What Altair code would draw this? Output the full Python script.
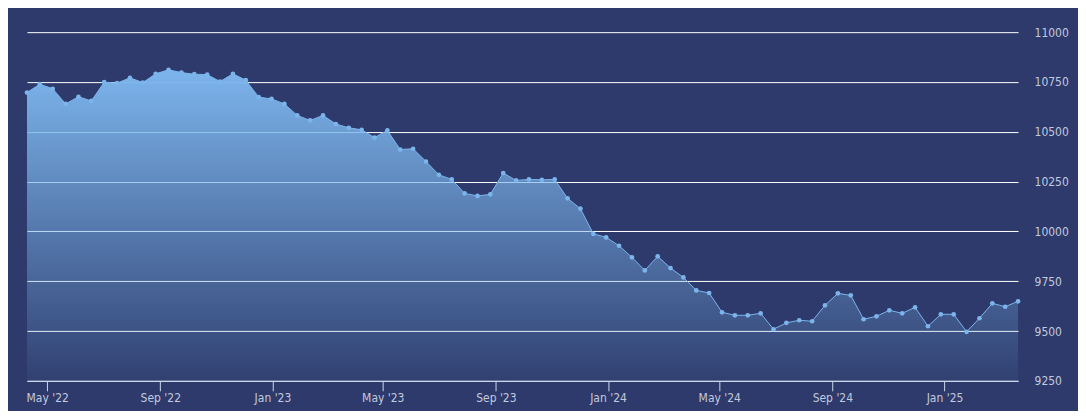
import altair as alt
import pandas as pd

start_date = "2022-04-09"
step_days = 14
values = [
    10697, 10739, 10716, 10640, 10676, 10655, 10749, 10744, 10771, 10747,
    10791, 10811, 10797, 10789, 10787, 10752, 10791, 10759, 10674, 10665,
    10640, 10582, 10557, 10582, 10539, 10520, 10510, 10471, 10507, 10411,
    10415, 10351, 10284, 10261, 10191, 10178, 10186, 10293, 10256, 10261,
    10259, 10261, 10166, 10114, 9988, 9970, 9928, 9870, 9804, 9875,
    9816, 9769, 9704, 9691, 9594, 9579, 9579, 9589, 9509, 9541,
    9554, 9549, 9629, 9689, 9679, 9559, 9574, 9604, 9589, 9619,
    9524, 9584, 9584, 9496, 9564, 9639, 9622, 9649,
]
y_ticks = [9250, 9500, 9750, 10000, 10250, 10500, 10750, 11000]
x_tick_months = [(2022, 5), (2022, 9), (2023, 1), (2023, 5), (2023, 9),
                 (2024, 1), (2024, 5), (2024, 9), (2025, 1)]

dates = pd.date_range(start_date, periods=len(values), freq=f"{step_days}D")
df = pd.DataFrame({"date": dates.strftime("%Y-%m-%d"), "value": values})

x_enc = alt.X(
    "date:T",
    scale=alt.Scale(type="utc", nice=False),
    axis=alt.Axis(
        title=None,
        values=[alt.DateTime(year=y, month=m, date=1, utc=True) for y, m in x_tick_months],
        format="%b '%y",
        grid=False,
        domainColor="#ccd6eb",
        tickColor="#ccd6eb",
        tickSize=10,
        labelColor="#c3c9de",
        labelFont="DejaVu Sans Condensed",
        labelFontSize=12,
        labelPadding=2,
        labelFlush=False,
    ),
)
y_enc = alt.Y(
    "value:Q",
    scale=alt.Scale(domain=[9250, 11000], zero=False, nice=False),
    axis=alt.Axis(
        title=None,
        orient="right",
        values=y_ticks,
        format="d",
        grid=True,
        gridColor="#ffffff",
        gridWidth=1,
        domain=False,
        ticks=False,
        labelColor="#c3c9de",
        labelFont="DejaVu Sans Condensed",
        labelFontSize=12,
        labelPadding=16,
        labelBaseline="middle",
    ),
)

base = alt.Chart(df).encode(x=x_enc, y=y_enc)

area = base.mark_area(
    color=alt.Gradient(
        gradient="linear",
        stops=[
            alt.GradientStop(color="rgba(124,181,236,1)", offset=0),
            alt.GradientStop(color="rgba(124,181,236,0.05)", offset=1),
        ],
        x1=0, x2=0, y1=0, y2=1,
    ),
    line=False,
).encode(y2=alt.datum(9250))

line = base.mark_line(color="#7cb5ec", strokeWidth=1)
points = base.mark_circle(color="#7cb5ec", size=22, opacity=1)

chart = (
    alt.layer(area, line, points)
    .properties(
        width=992,
        height=349,
        background="#2d3a6b",
        padding={"left": 19, "top": 24, "right": 60, "bottom": 30},
        autosize=alt.AutoSizeParams(type="none"),
    )
    .configure_view(stroke=None)
)

chart.save("out.html", embed_options={"renderer": "svg", "actions": False})
